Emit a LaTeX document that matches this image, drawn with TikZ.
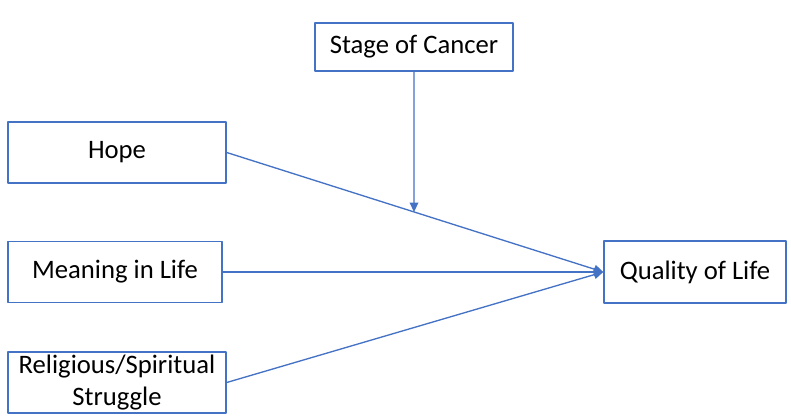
\documentclass[tikz,border=0pt]{standalone}
\usepackage{fontspec}
\setmainfont{Carlito}
\usetikzlibrary{arrows.meta}

\definecolor{linkblue}{HTML}{4472C4}
\tikzset{
  varbox/.style={draw=linkblue,line width=1.1pt,fill=white,align=center,
    inner sep=2pt,font=\fontsize{20}{23.5}\selectfont},
  link/.style={draw=linkblue,line width=1pt,-{Triangle[length=7pt,width=6.5pt]}}
}

\begin{document}
\begin{tikzpicture}[x=0.75pt,y=-0.75pt,line cap=round,line join=round]
  \useasboundingbox (0,0) rectangle (791,416);
  \node[varbox,minimum width=148.5pt,minimum height=36pt] (stage) at (414,47) {Stage of Cancer};
  \node[varbox,minimum width=163.5pt,minimum height=45.75pt] (hope) at (117,152.5) {Hope};
  \node[varbox,minimum width=160.5pt,minimum height=45.75pt] (meaning) at (115,272) {Meaning in Life};
  \node[varbox,minimum width=163.5pt,minimum height=45.75pt] (struggle) at (117,382.5) {Religious/Spiritual\\Struggle};
  \node[varbox,minimum width=136.5pt,minimum height=46.5pt] (qol) at (695,272) {Quality of Life};
  \coordinate (moderate) at (intersection of stage.north--stage.south and hope.east--qol.west);
  \draw[link] (hope.east) -- (qol.west);
  \draw[link] (meaning.east) -- (qol.west);
  \draw[link] (struggle.east) -- (qol.west);
  \draw[link] (stage.south) -- (moderate);
\end{tikzpicture}
\end{document}
